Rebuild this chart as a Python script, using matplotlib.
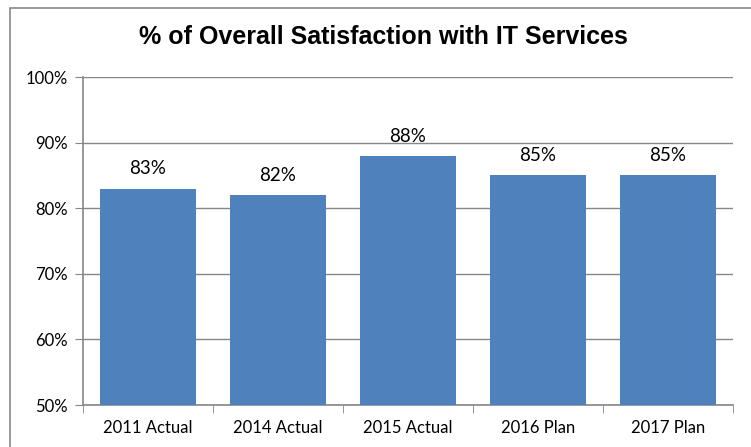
import matplotlib.pyplot as plt
from matplotlib.patches import Rectangle

categories = ['2011 Actual', '2014 Actual', '2015 Actual', '2016 Plan', '2017 Plan']
values = [83, 82, 88, 85, 85]
y_ticks = [50, 60, 70, 80, 90, 100]

bar_color = '#4F81BD'
grid_color = '#868686'

fig = plt.figure(figsize=(7.51, 4.47), dpi=100)
ax = fig.add_axes([83 / 751, 1 - 405 / 447, 650 / 751, 328 / 447])

# outer chart border
fig.patches.append(Rectangle((10 / 751, -0.1), 1.2, 1 - 8 / 447 + 0.1,
                             transform=fig.transFigure, fill=False,
                             edgecolor='#898989', linewidth=1.2))

x = range(len(categories))
ax.bar(x, values, width=0.74, color=bar_color, zorder=3, bottom=0)
ax.set_ylim(50, 100)
ax.set_xlim(-0.5, len(categories) - 0.5)
ax.set_yticks(y_ticks)
ax.set_yticklabels([f'{v}%' for v in y_ticks])
ax.set_xticks(list(x))
ax.set_xticklabels(categories)
ax.tick_params(axis='x', length=0, pad=11, labelsize=12)
ax.tick_params(axis='y', length=6, color=grid_color, pad=5, labelsize=12)
ax.set_xticks([i - 0.5 for i in range(len(categories) + 1)], minor=True)
ax.tick_params(axis='x', which='minor', length=6, color=grid_color)

ax.grid(axis='y', color=grid_color, linewidth=1, zorder=0)
for s in ['top', 'right']:
    ax.spines[s].set_visible(False)
for s in ['left', 'bottom']:
    ax.spines[s].set_color(grid_color)
    ax.spines[s].set_linewidth(1.2)

for i, v in enumerate(values):
    ax.text(i, v + 1.7, f'{v}%', ha='center', va='bottom', fontsize=13.5)

for lbl in ax.get_xticklabels() + ax.get_yticklabels():
    lbl.set_family(['Lato', 'DejaVu Sans'])
for t in ax.texts:
    t.set_family(['Lato', 'DejaVu Sans'])

fig.text(383 / 751, 1 - 37 / 447, '% of Overall Satisfaction with IT Services',
         ha='center', va='center', fontsize=18, fontweight='bold',
         family=['Liberation Sans Narrow', 'Liberation Sans', 'DejaVu Sans'])

fig.savefig('out.png', dpi=100)
